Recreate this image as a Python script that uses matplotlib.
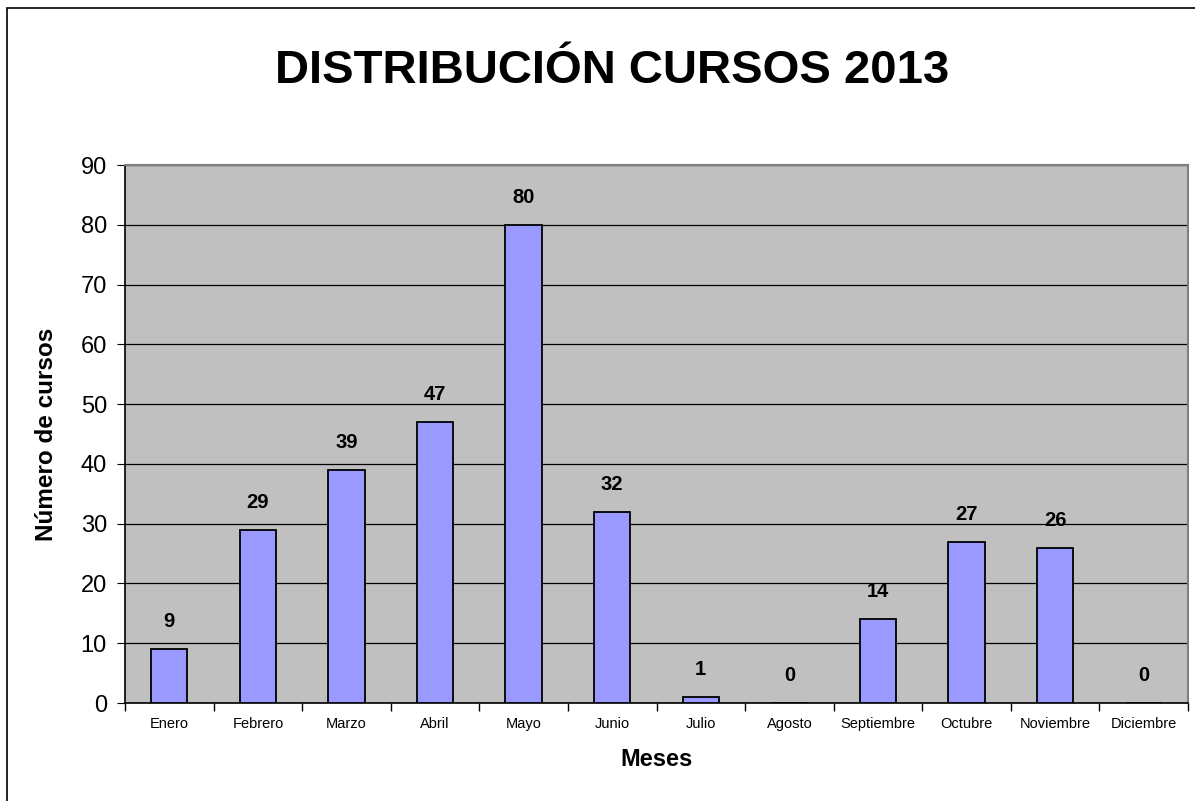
import numpy as np
import matplotlib
matplotlib.use('Agg')
import matplotlib.pyplot as plt
from matplotlib.patches import Rectangle

plt.rcParams['font.family'] = ['Liberation Sans', 'DejaVu Sans']

meses = ['Enero', 'Febrero', 'Marzo', 'Abril', 'Mayo', 'Junio', 'Julio',
         'Agosto', 'Septiembre', 'Octubre', 'Noviembre', 'Diciembre']
cursos = [9, 29, 39, 47, 80, 32, 1, 0, 14, 27, 26, 0]
yticks = [0, 10, 20, 30, 40, 50, 60, 70, 80, 90]

fig = plt.figure(figsize=(11.95, 8.01), dpi=100)
# borde del gráfico (solo se ven los lados izquierdo y superior)
fig.patches.append(Rectangle((7 / 1195, -0.1), 1.2, 1 - 7.5 / 801 + 0.1,
                             transform=fig.transFigure, fill=False,
                             edgecolor='black', lw=1.2))

ax = fig.add_axes([125 / 1195, 98 / 801, 1063 / 1195, 538 / 801])
ax.set_facecolor('#c0c0c0')

x = np.arange(len(meses))
ax.bar(x, cursos, width=0.41, color='#9999ff', edgecolor='black', lw=1.3,
       zorder=3)
for xi, v in zip(x, cursos):
    ax.annotate(str(v), (xi, v), xytext=(0, 13), textcoords='offset points',
                ha='center', va='bottom', fontsize=14.5, fontweight='bold')

ax.set_xlim(-0.5, len(meses) - 0.5)
ax.set_ylim(0, 90)
ax.set_yticks(yticks)
ax.tick_params(axis='y', labelsize=17, length=6, direction='out', pad=7)
ax.yaxis.grid(True, color='black', lw=0.9, zorder=1)
ax.set_axisbelow(True)

ax.set_xticks(x)
ax.set_xticklabels(meses, fontsize=10.5)
ax.tick_params(axis='x', length=0, pad=10)
ax.set_xticks(np.arange(-0.5, len(meses), 1), minor=True)
ax.tick_params(axis='x', which='minor', length=6, direction='out', width=1)

for side in ['top', 'right']:
    ax.spines[side].set_color('#808080')
    ax.spines[side].set_linewidth(1.5)
for side in ['left', 'bottom']:
    ax.spines[side].set_color('black')
    ax.spines[side].set_linewidth(1.2)

ax.set_xlabel('Meses', fontsize=17, fontweight='bold', labelpad=12)
ax.set_ylabel('Número de cursos', fontsize=17.5, fontweight='bold', labelpad=16)

fig.text(612 / 1195, 1 - 71 / 801, 'DISTRIBUCIÓN CURSOS 2013', ha='center',
         va='center', fontsize=34, fontweight='bold')

fig.savefig('out.png', dpi=100)
